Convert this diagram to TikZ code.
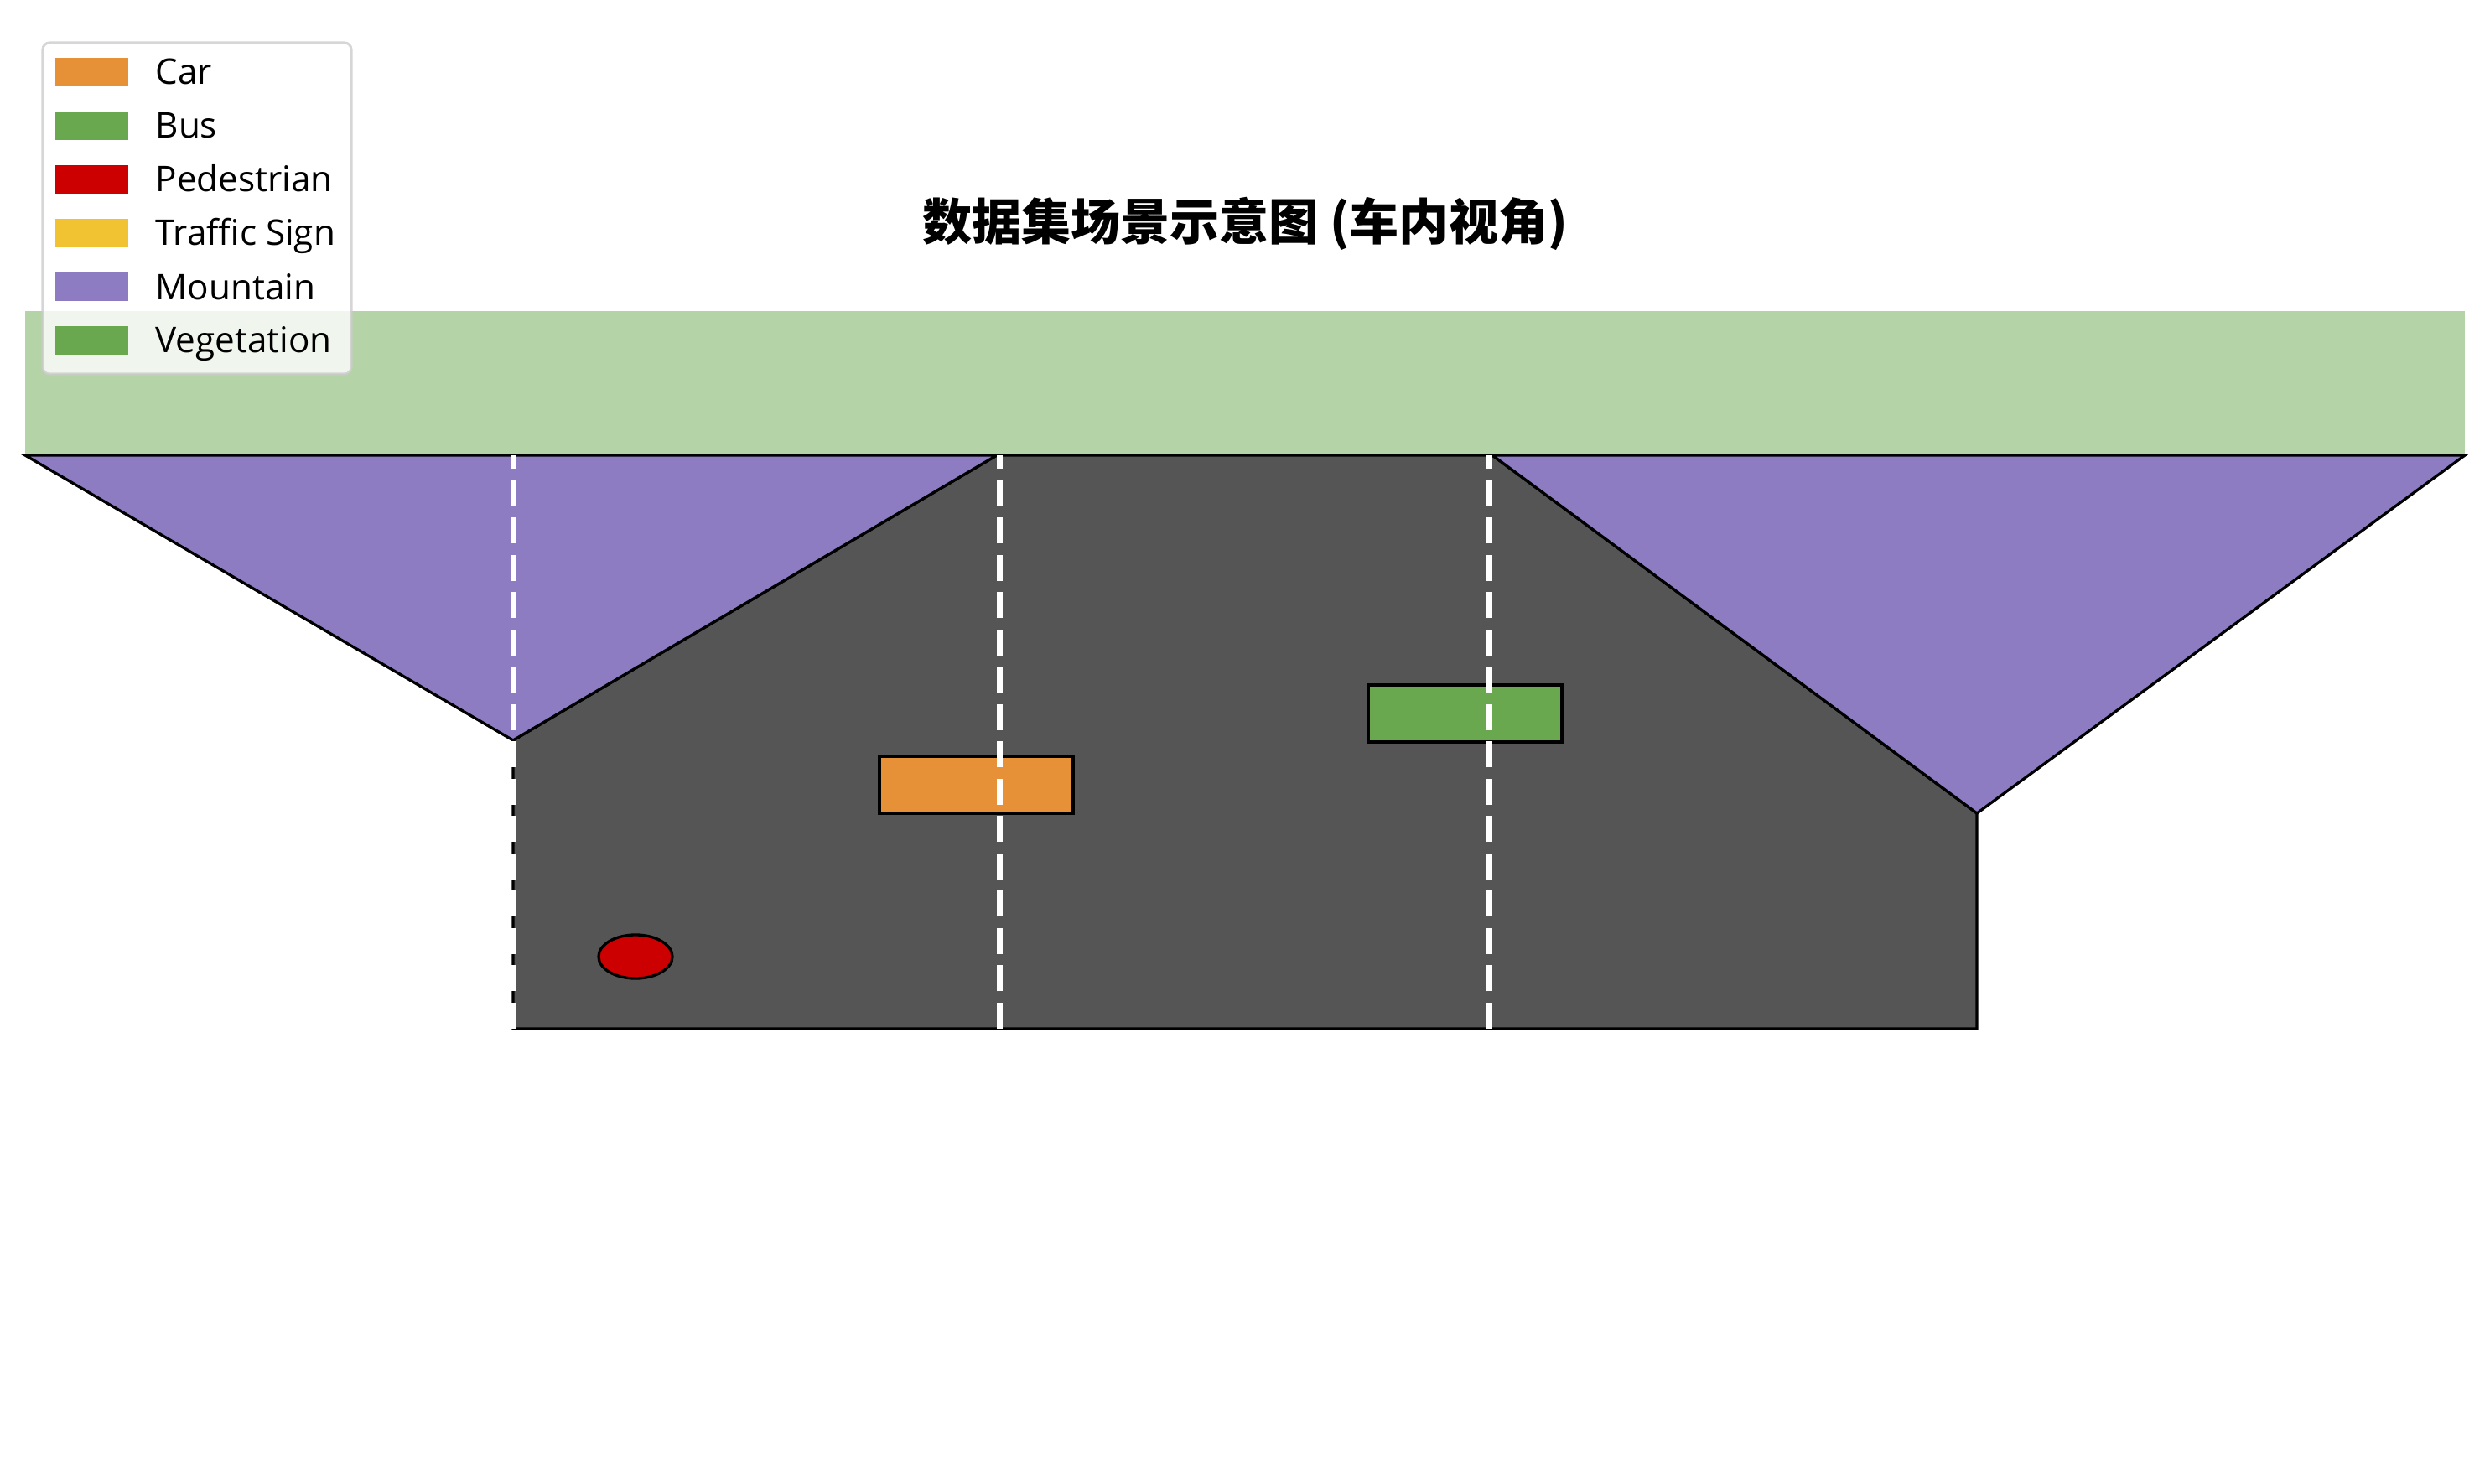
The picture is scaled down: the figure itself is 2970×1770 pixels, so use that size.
\documentclass[tikz,border=0pt]{standalone}
\usepackage{fontspec}
\setmainfont{Open Sans}
\newfontfamily\cjk{Noto Sans CJK SC}
\usetikzlibrary{shapes.geometric}
\definecolor{carc}{HTML}{E69138}
\definecolor{busc}{HTML}{6AA84F}
\definecolor{pedc}{HTML}{CC0000}
\definecolor{signc}{HTML}{F1C232}
\definecolor{mtc}{HTML}{8E7CC3}
\definecolor{vegc}{HTML}{6AA84F}
\definecolor{roadc}{HTML}{555555}
\definecolor{legborder}{HTML}{CCCCCC}
\begin{document}
\begin{tikzpicture}[x=0.01cm,y=-0.01cm,
  edge/.style={draw=black, line width=0.033cm, line join=miter},
  lane/.style={draw=white, line width=0.07cm, dash pattern=on 0.31cm off 0.135cm},
  vehicle/.style={draw=black, line width=0.033cm, minimum width=2.31cm, minimum height=0.68cm, inner sep=0pt},
  patch/.style={minimum width=0.87cm, minimum height=0.33cm, inner sep=0pt, draw=none},
  legtext/.style={anchor=base west, inner sep=0pt, font=\fontsize{12}{15}\selectfont}
]
\useasboundingbox (0,0) rectangle (2970,1770);
% vegetation band
\fill[vegc, fill opacity=0.5] (30,371) rectangle (2940,543);
% road
\draw[edge, fill=roadc] (612,883) -- (1189,543) -- (1780,543) -- (2358,970) -- (2358,1227) -- (612,1227) -- cycle;
% mountains
\draw[edge, fill=mtc] (30,543) -- (1189,543) -- (612,883) -- cycle;
\draw[edge, fill=mtc] (1780,543) -- (2940,543) -- (2358,970) -- cycle;
% objects
\node[vehicle, fill=carc] (car) at (1164.5,936) {};
\node[vehicle, fill=busc] (bus) at (1747.5,851) {};
\node[ellipse, draw=black, line width=0.033cm, fill=pedc, minimum width=0.88cm, minimum height=0.52cm, inner sep=0pt] (ped) at (758,1141) {};
% lane lines
\coordinate (l1b) at (612,1227); \coordinate (l1t) at (612,543);
\coordinate (l2b) at (1192,1227); \coordinate (l2t) at (1192,543);
\coordinate (l3b) at (1776,1227); \coordinate (l3t) at (1776,543);
\draw[lane] (l1b) -- (l1t);
\draw[lane] (l2b) -- (l2t);
\draw[lane] (l3b) -- (l3t);
% title
\node[font=\cjk\bfseries\fontsize{16.8}{20}\selectfont] (title) at (1485,267) {数据集场景示意图 (车内视角)};
% legend
\draw[rounded corners=0.08cm, fill=white, fill opacity=0.8, draw=legborder, draw opacity=0.8, line width=0.03cm] (51,51) rectangle (419,446);
\node[patch, fill=carc] (pcar) at (109.5,86) {};
\node[patch, fill=busc] (pbus) at (109.5,150) {};
\node[patch, fill=pedc] (pped) at (109.5,214) {};
\node[patch, fill=signc] (psign) at (109.5,278) {};
\node[patch, fill=mtc] (pmt) at (109.5,342) {};
\node[patch, fill=vegc] (pveg) at (109.5,406) {};
\node[legtext] (tcar) at (185,101) {Car};
\node[legtext] (tbus) at (185,165) {Bus};
\node[legtext] (tped) at (185,229) {Pedestrian};
\node[legtext] (tsign) at (185,293) {Traffic Sign};
\node[legtext] (tmt) at (185,357) {Mountain};
\node[legtext] (tveg) at (185,421) {Vegetation};
\end{tikzpicture}
\end{document}
